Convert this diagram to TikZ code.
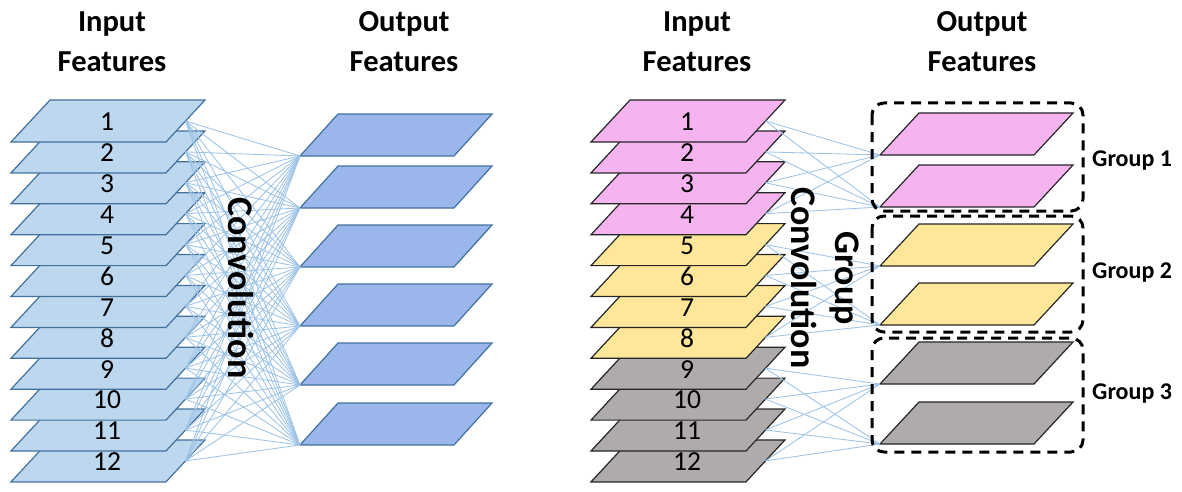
\documentclass[tikz,border=0pt]{standalone}
\usepackage{fontspec}
\setmainfont{Carlito}
\definecolor{inblue}{HTML}{BDD7EE}
\definecolor{outblue}{HTML}{9BB6EA}
\definecolor{edgeblue}{HTML}{41719C}
\definecolor{linkblue}{HTML}{9DC3E6}
\definecolor{pinkF}{HTML}{F5B4F0}
\definecolor{yellowF}{HTML}{FFE699}
\definecolor{grayF}{HTML}{AFABAB}
\definecolor{edgedark}{HTML}{262626}
\begin{document}
\begin{tikzpicture}[x=1pt,y=-1pt,
  conn/.style={draw=linkblue, line width=0.85pt},
  plateL/.style={fill=inblue, draw=edgeblue, line width=1.2pt},
  plateLo/.style={fill=outblue, draw=edgeblue, line width=1.2pt},
  plateR/.style={fill=#1, draw=edgedark, line width=1.2pt},
  num/.style={font=\fontsize{27.5}{30}\selectfont, inner sep=0pt},
  header/.style={font=\bfseries\fontsize{30.5}{40}\selectfont, align=center, inner sep=0pt},
  convtext/.style={font=\bfseries\fontsize{36}{44}\selectfont, align=center, rotate=-90, inner sep=0pt},
  grouplabel/.style={font=\bfseries\fontsize{24}{28}\selectfont, anchor=west, inner sep=0pt},
  groupbox/.style={draw=black, line width=3pt, dash pattern=on 10pt off 7pt, rounded corners=12pt}]
\useasboundingbox (0,0) rectangle (1182,492);

% ---------------- Left panel ----------------
\node[header] (hinL) at (112,42) {Input\\Features};
\node[header] (houtL) at (404,42) {Output\\Features};

\foreach \i in {12,11,...,1} {
  \pgfmathsetmacro{\t}{100+(\i-1)*30.9}
  \path[plateL] (11,\t+42) -- (166,\t+42) -- (205,\t) -- (50,\t) -- cycle;
  \node[num] (Ln\i) at (107,\t+22) {\i};
  \coordinate (Li\i) at (185.5,\t+21);
}

\foreach \j/\t in {1/114,2/166,3/225,4/284,5/343,6/403} {
  \path[plateLo] (300,\t+42) -- (454,\t+42) -- (492,\t) -- (338,\t) -- cycle;
  \coordinate (Lo\j) at (300,\t+42);
}

\foreach \i in {1,...,12} {
  \foreach \j in {1,...,6} {
    \draw[conn] (Li\i) -- (Lo\j);
  }
}

\node[convtext] (convL) at (241,288) {Convolution};

% ---------------- Right panel ----------------
\node[header] (hinR) at (697,42) {Input\\Features};
\node[header] (houtR) at (982,42) {Output\\Features};

\foreach \i/\c in {12/grayF,11/grayF,10/grayF,9/grayF,8/yellowF,7/yellowF,6/yellowF,5/yellowF,4/pinkF,3/pinkF,2/pinkF,1/pinkF} {
  \pgfmathsetmacro{\t}{100+(\i-1)*30.9}
  \path[plateR=\c] (591,\t+42) -- (746,\t+42) -- (785,\t) -- (630,\t) -- cycle;
  \node[num] (Rn\i) at (687,\t+22) {\i};
  \coordinate (Ri\i) at (765.5,\t+21);
}

\foreach \j/\t/\c in {1/113/pinkF,2/165/pinkF,3/224/yellowF,4/283/yellowF,5/342/grayF,6/402/grayF} {
  \path[plateR=\c] (880,\t+42) -- (1034,\t+42) -- (1073,\t) -- (919,\t) -- cycle;
  \coordinate (Ro\j) at (880,\t+42);
}

\foreach \i in {1,2,3,4} { \foreach \j in {1,2} { \draw[conn] (Ri\i) -- (Ro\j); } }
\foreach \i in {5,6,7,8} { \foreach \j in {3,4} { \draw[conn] (Ri\i) -- (Ro\j); } }
\foreach \i in {9,10,11,12} { \foreach \j in {5,6} { \draw[conn] (Ri\i) -- (Ro\j); } }

\node[convtext] (convR) at (825,278) {Group\\Convolution};

\draw[groupbox] (872,103) rectangle (1083,211);
\draw[groupbox] (872,216) rectangle (1083,332);
\draw[groupbox] (872,338) rectangle (1083,452);

\node[grouplabel] (g1) at (1092,161) {Group 1};
\node[grouplabel] (g2) at (1092,273) {Group 2};
\node[grouplabel] (g3) at (1092,394) {Group 3};
\end{tikzpicture}
\end{document}
